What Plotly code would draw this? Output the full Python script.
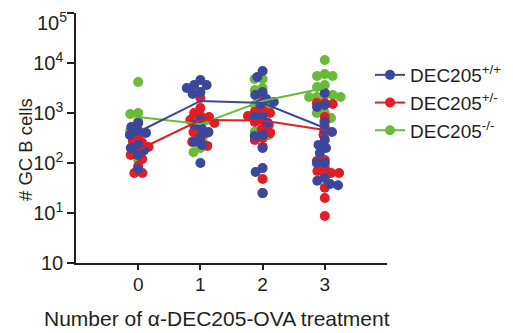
import math
import plotly.graph_objects as go

# ---------------- data ----------------
treatments = [0, 1, 2, 3]
series_names = ["DEC205<sup>+/+</sup>", "DEC205<sup>+/-</sup>", "DEC205<sup>-/-</sup>"]

wt_0 = [630, 525, 435, 400, 365, 230, 200, 180, 145, 76]
wt_1 = [4570, 3630, 3630, 3160, 2630, 2400, 725, 575, 500, 415, 330, 265, 230, 100]
wt_2 = [6900, 5250, 2630, 2290, 1900, 1660, 1510, 830, 830, 630, 365, 345, 200, 79, 66, 25]
wt_3 = [2510, 1450, 1320, 660, 457, 417, 290, 230, 200, 158, 100, 100, 50, 44, 38, 36]

het_0 = [360, 275, 260, 210, 165, 145, 120, 87, 63, 63]
het_1 = [2000, 1260, 1000, 830, 830, 725, 630, 500, 415, 400, 265, 265, 220]
het_2 = [2290, 1150, 1050, 1000, 870, 725, 660, 575, 480, 400, 315, 290, 210, 48, 25]
het_3 = [1580, 1580, 1510, 830, 525, 365, 115, 110, 79, 69, 63, 63, 52, 32, 20, 8.7]

ko_0 = [4170, 1000, 955, 690, 440, 455, 290, 180, 115]
ko_1 = [2630, 910, 795, 725, 500, 365, 290, 265, 200, 165]
ko_2 = [4790, 4790, 3160, 2880, 1590, 1450, 1260, 460, 420, 365]
ko_3 = [11500, 6000, 5500, 5500, 3630, 3300, 2290, 2290, 2090, 2090, 2090, 1510, 1000, 1000, 795, 660]

wt_mean = [417, 1740, 1585, 500]
het_mean = [182, 724, 710, 457]
ko_mean = [830, 600, 1740, 3160]

y_tickvals = [1, 10, 100, 1000, 10000, 100000]
y_ticktext = ["10", "10<sup>1</sup>", "10<sup>2</sup>", "10<sup>3</sup>", "10<sup>4</sup>", "10<sup>5</sup>"]
x_title = "Number of α-DEC205-OVA treatment"
y_title = "# GC B cells"

colors = ["#3B479D", "#E31D25", "#6BBA3A"]
AXC = "#231F20"

# ---------------- layout helpers ----------------
# the page body adds an 8px offset; positions below are page pixels minus OFF
OFF = 8
W, H = 513, 333
P_LEFT, P_RIGHT, P_TOP, P_BOTTOM = 76, 387, 13, 263   # plot area in page pixels
ML = P_LEFT - OFF
MT = P_TOP - OFF
MR = W - (P_RIGHT - OFF)
MB = H - (P_BOTTOM - OFF)
PW, PH = P_RIGHT - P_LEFT, P_BOTTOM - P_TOP
PX_PER_UNIT = PW / 5.0      # x range [-1, 4]
PX_PER_DEC = PH / 5.0       # y range 10^0..10^5
DIAM = 8.0                  # collision distance for the swarm (px)


def px_x(px):   # page x pixel -> paper coordinate
    return (px - P_LEFT) / PW


def px_y(py):   # page y pixel -> paper coordinate
    return (P_BOTTOM - py) / PH


def swarm(vals):
    ys = [PX_PER_DEC * math.log10(v) for v in vals]
    order = sorted(range(len(vals)), key=lambda i: -ys[i])
    placed = []
    offs = [0.0] * len(vals)
    for i in order:
        y = ys[i]
        cands = [0.0]
        for (xj, yj) in placed:
            dy = abs(y - yj)
            if dy < DIAM:
                dx = math.sqrt(DIAM ** 2 - dy ** 2)
                cands += [xj + dx, xj - dx]
        cands.sort(key=lambda c: (abs(c), c))
        for c in cands:
            ok = True
            for (xj, yj) in placed:
                if (c - xj) ** 2 + (y - yj) ** 2 < DIAM ** 2 - 1e-6:
                    ok = False
                    break
            if ok:
                offs[i] = c
                break
        placed.append((offs[i], y))
    return [o / PX_PER_UNIT for o in offs]


groups = [
    [wt_0, wt_1, wt_2, wt_3],
    [het_0, het_1, het_2, het_3],
    [ko_0, ko_1, ko_2, ko_3],
]
means = [wt_mean, het_mean, ko_mean]

fig = go.Figure()

# dots: green, red, blue (blue on top)
for si in [2, 1, 0]:
    xs, ys = [], []
    for t, vals in zip(treatments, groups[si]):
        for o, v in zip(swarm(vals), vals):
            xs.append(t + o)
            ys.append(v)
    fig.add_trace(go.Scatter(
        x=xs, y=ys, mode="markers", showlegend=False,
        marker=dict(size=10, color=colors[si], line=dict(width=0)),
        hoverinfo="skip", cliponaxis=False))

for si in [2, 1, 0]:
    fig.add_trace(go.Scatter(
        x=treatments, y=means[si], mode="lines", showlegend=False,
        line=dict(color=colors[si], width=2), hoverinfo="skip"))

# legend entries
for si in [0, 1, 2]:
    fig.add_trace(go.Scatter(
        x=[None], y=[None], mode="lines+markers", name=series_names[si],
        line=dict(color=colors[si], width=2),
        marker=dict(size=10, color=colors[si]), legendrank=si + 1))

# the top tick label would be clipped by the page edge, so it is drawn
# as a text slightly lower, right-aligned with the other tick labels
axis_ticktext = y_ticktext[:-1] + [""]

fig.update_layout(
    width=W, height=H,
    margin=dict(l=ML, r=MR, t=MT, b=MB, pad=0, autoexpand=False),
    paper_bgcolor="white", plot_bgcolor="white",
    font=dict(family="Liberation Sans, Arial, sans-serif", color=AXC, size=16),
    legend=dict(x=px_x(370), y=px_y(56), xanchor="left", yanchor="top",
                font=dict(size=19, color=AXC), bgcolor="rgba(0,0,0,0)",
                itemwidth=30, tracegroupgap=0),
    xaxis=dict(range=[-1, 4], tickvals=treatments, ticktext=[str(t) for t in treatments],
               automargin=False, ticklabelstandoff=-2, ticklabeloverflow="allow",
               showgrid=False, zeroline=False, showline=True, linecolor=AXC, linewidth=1.5,
               ticks="outside", ticklen=5, tickwidth=1.5, tickcolor=AXC,
               tickfont=dict(size=19, color=AXC)),
    yaxis=dict(type="log", range=[0, 5], tickvals=y_tickvals, ticktext=axis_ticktext,
               automargin=False, ticklabeloverflow="allow",
               showgrid=False, zeroline=False, showline=True, linecolor=AXC, linewidth=1.5,
               ticks="outside", ticklen=7, tickwidth=1.5, tickcolor=AXC,
               tickfont=dict(size=20, color=AXC)),
    annotations=[
        dict(text=y_ticktext[-1], xref="paper", yref="paper", x=px_x(68),
             y=px_y(OFF), xanchor="right", yanchor="top", borderpad=0,
             showarrow=False, font=dict(size=20, color=AXC)),
        dict(text=x_title, xref="paper", yref="paper", x=px_x(217),
             y=px_y(318), xanchor="center", yanchor="middle",
             showarrow=False, font=dict(size=21, color=AXC)),
        dict(text=y_title, xref="paper", yref="paper", x=px_x(25),
             y=px_y(150), xanchor="center", yanchor="middle",
             textangle=-90, showarrow=False, font=dict(size=18.5, color=AXC)),
    ],
)

fig.write_html("out.html")
